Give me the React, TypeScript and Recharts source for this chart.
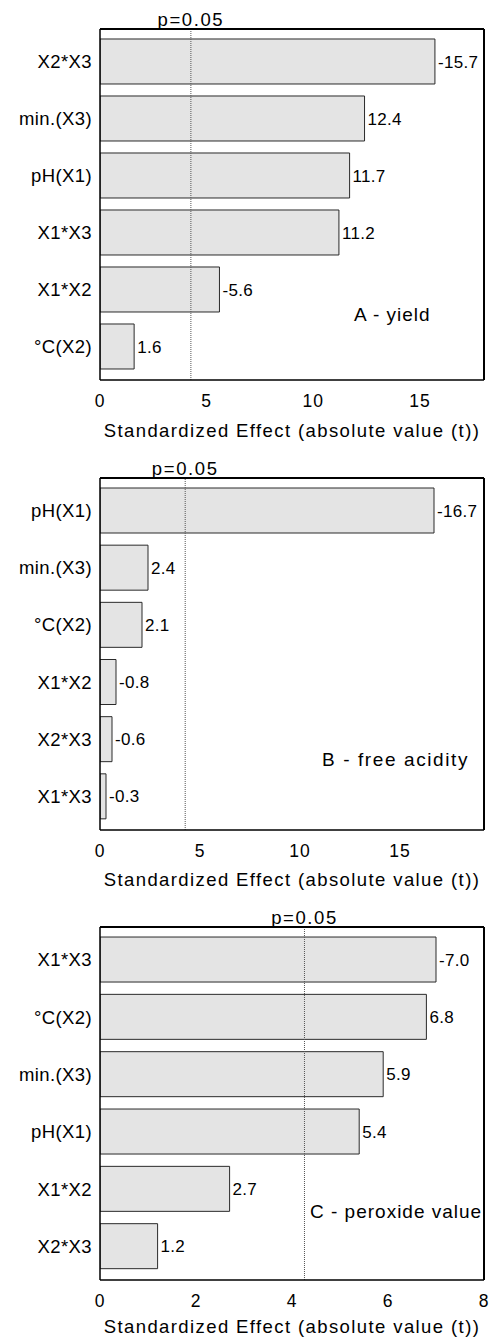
import React from 'react';
import { BarChart, Bar, XAxis, YAxis, ReferenceLine, LabelList, Label } from 'recharts';

const FONT = '"Liberation Sans", Arial, Helvetica, sans-serif';

const catsA = ['X2*X3', 'min.(X3)', 'pH(X1)', 'X1*X3', 'X1*X2', '°C(X2)'];
const valsA = [-15.7, 12.4, 11.7, 11.2, -5.6, 1.6];
const ticksA = [0, 5, 10, 15];

const catsB = ['pH(X1)', 'min.(X3)', '°C(X2)', 'X1*X2', 'X2*X3', 'X1*X3'];
const valsB = [-16.7, 2.4, 2.1, -0.8, -0.6, -0.3];
const ticksB = [0, 5, 10, 15];

const catsC = ['X1*X3', '°C(X2)', 'min.(X3)', 'pH(X1)', 'X1*X2', 'X2*X3'];
const valsC = [-7.0, 6.8, 5.9, 5.4, 2.7, 1.2];
const ticksC = [0, 2, 4, 6, 8];

const P_CRIT = 4.26;
const AXIS_TITLE = 'Standardized Effect (absolute value (t))';

type PanelProps = {
  cats: string[];
  vals: number[];
  ticks: number[];
  xMax: number;
  height: number;
  axisH: number;
  titleOffset: number;
};

function Panel({ cats, vals, ticks, xMax, height, axisH, titleOffset }: PanelProps) {
  const data = cats.map((c, i) => ({ name: c, abs: Math.abs(vals[i]), lbl: vals[i].toFixed(1) }));
  const pad = { top: 4, bottom: 5 };
  return (
    <BarChart
      width={489}
      height={height}
      data={data}
      layout="vertical"
      margin={{ top: 29, right: 5, left: 0, bottom: 0 }}
      barCategoryGap="10.5%"
    >
      <XAxis
        xAxisId="b"
        type="number"
        domain={[0, xMax]}
        ticks={ticks}
        interval={0}
        allowDataOverflow
        orientation="bottom"
        height={axisH}
        tickLine={false}
        tickSize={0}
        tickMargin={15}
        axisLine={{ stroke: '#000', strokeWidth: 1.5 }}
        tick={{ fill: '#000', fontSize: 17.5, fontFamily: FONT, letterSpacing: 1 }}
      >
        <Label
          value={AXIS_TITLE}
          position="insideBottom"
          offset={titleOffset}
          style={{ fill: '#000', fontSize: 18.5, fontFamily: FONT, letterSpacing: 1.4 }}
        />
      </XAxis>
      <XAxis
        xAxisId="bm"
        type="number"
        domain={[0, xMax]}
        ticks={ticks}
        interval={0}
        allowDataOverflow
        orientation="bottom"
        mirror
        tick={false}
        tickSize={4}
        tickLine={{ stroke: '#000' }}
        axisLine={false}
      />
      <XAxis
        xAxisId="t"
        type="number"
        domain={[0, xMax]}
        ticks={ticks}
        interval={0}
        allowDataOverflow
        orientation="top"
        mirror
        tick={false}
        tickSize={4}
        tickLine={{ stroke: '#000' }}
        axisLine={{ stroke: '#000', strokeWidth: 2 }}
      />
      <YAxis
        yAxisId="l"
        type="category"
        dataKey="name"
        width={100}
        interval={0}
        tickLine={false}
        tickSize={0}
        tickMargin={8}
        padding={pad}
        axisLine={{ stroke: '#000', strokeWidth: 1.5 }}
        tick={{ fill: '#000', fontSize: 18.5, fontFamily: FONT, letterSpacing: 0.4 }}
      />
      <YAxis
        yAxisId="r"
        type="category"
        dataKey="name"
        orientation="right"
        mirror
        interval={0}
        tick={false}
        tickSize={4}
        padding={pad}
        tickLine={{ stroke: '#000' }}
        axisLine={{ stroke: '#000', strokeWidth: 2 }}
      />
      <Bar
        xAxisId="b"
        yAxisId="r"
        dataKey="abs"
        fill="none"
        fillOpacity={0}
        stroke="none"
        isAnimationActive={false}
      />
      <Bar
        xAxisId="b"
        yAxisId="l"
        dataKey="abs"
        fill="#e4e4e4"
        stroke="#2a2a2a"
        strokeWidth={1}
        isAnimationActive={false}
      >
        <LabelList
          dataKey="lbl"
          position="right"
          offset={3}
          style={{ fill: '#000', fontSize: 17, fontFamily: FONT, letterSpacing: 0.3 }}
        />
      </Bar>
      <ReferenceLine
        xAxisId="b"
        yAxisId="l"
        x={P_CRIT}
        stroke="#555"
        strokeWidth={1}
        strokeDasharray="1 1"
        label={{
          value: 'p=0.05',
          position: 'top',
          offset: 3,
          fill: '#000',
          fontSize: 18.5,
          fontFamily: FONT,
          style: { letterSpacing: 1.6 },
        }}
      />
    </BarChart>
  );
}

export default function App() {
  const annStyle = { fontFamily: FONT, fontSize: 19, fill: '#000', letterSpacing: 1.0 } as React.CSSProperties;
  return (
    <div
      style={{
        position: 'absolute',
        top: 0,
        left: 0,
        width: 489,
        height: 1341,
        overflow: 'hidden',
        background: '#fff',
      }}
    >
      <Panel cats={catsA} vals={valsA} ticks={ticksA} xMax={18} height={449} axisH={69} titleOffset={12} />
      <Panel cats={catsB} vals={valsB} ticks={ticksB} xMax={19.2} height={449} axisH={68} titleOffset={12} />
      <Panel cats={catsC} vals={valsC} ticks={ticksC} xMax={8} height={443} axisH={61} titleOffset={8} />
      <svg
        width={489}
        height={1341}
        style={{ position: 'absolute', top: 0, left: 0, pointerEvents: 'none' }}
      >
        <text x={354} y={321} style={annStyle}>A - yield</text>
        <text x={322} y={766} style={{ ...annStyle, letterSpacing: 1.6 }}>B - free acidity</text>
        <text x={310} y={1218} style={annStyle}>C - peroxide value</text>
      </svg>
    </div>
  );
}
